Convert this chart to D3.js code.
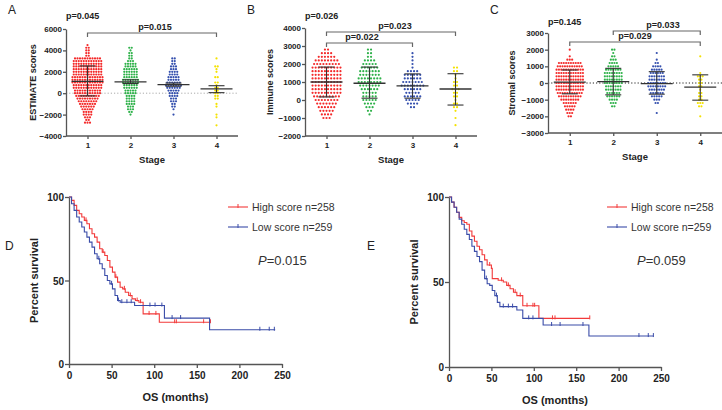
<!DOCTYPE html>
<html>
<head>
<meta charset="utf-8">
<script src="https://cdn.jsdelivr.net/npm/d3@7"></script>
<style>
  body { margin: 0; background: #fff; }
  text { font-family: "Liberation Sans", Arial, sans-serif; }
</style>
</head>
<body>
<script>
/* Size of the whole figure */
var width = 722,
    height = 410;

/* Categories and colours of the dot plots */
var stages = ["1", "2", "3", "4"];
var stageColors = ["#f42a2a", "#2fb24a", "#3550ae", "#f4e200"];

/* Dot plot rows: [score, number of dots in that row] */
var estimateRows1 = [[-2750,3],[-2500,2],[-2250,3],[-2000,4],[-1750,4],[-1500,5],[-1250,6],[-1000,7],[-750,8],[-500,9],[-250,10],[0,11],[250,11],[500,12],[750,12],[1000,13],[1250,13],[1500,13],[1750,12],[2000,12],[2250,12],[2500,12],[2750,12],[3000,12],[3250,11],[3500,2],[3750,2],[4000,2],[4250,2],[4500,1]];
var estimateRows2 = [[-2000,1],[-1750,2],[-1500,3],[-1250,3],[-1000,4],[-750,4],[-500,4],[-250,4],[0,5],[250,5],[500,6],[750,6],[1000,7],[1250,7],[1500,6],[1750,6],[2000,6],[2250,6],[2500,5],[2750,5],[3000,3],[3250,2],[3500,2],[3750,2],[4000,1],[4250,2]];
var estimateRows3 = [[-2000,1],[-1500,1],[-1250,2],[-1000,2],[-750,3],[-500,3],[-250,4],[0,4],[250,5],[500,6],[750,7],[1000,6],[1250,5],[1500,5],[1750,4],[2000,4],[2250,3],[2500,3],[2750,2],[3000,2],[3250,2]];
var estimateRows4 = [[-3000,1],[-2250,1],[-2000,1],[-1250,1],[-1000,1],[-500,2],[-250,2],[0,2],[250,2],[500,2],[750,1],[1000,2],[1500,2],[2000,1],[2250,1],[2500,2],[3250,1]];

var immuneRows1 = [[-1000,3],[-800,4],[-600,5],[-400,6],[-200,7],[0,8],[200,9],[400,10],[600,10],[800,10],[1000,10],[1200,10],[1400,10],[1600,10],[1800,10],[2000,9],[2200,8],[2400,6],[2600,4],[2800,2]];
var immuneRows2 = [[-800,1],[-600,2],[-400,3],[-200,4],[0,5],[200,5],[400,5],[600,6],[800,7],[1000,8],[1200,8],[1400,7],[1600,7],[1800,6],[2000,5],[2200,4],[2400,2],[2600,2],[2800,2]];
var immuneRows3 = [[-400,2],[-200,4],[0,5],[200,6],[400,5],[600,6],[800,8],[1000,7],[1200,6],[1400,6],[1600,4],[1800,1],[2000,1],[2200,1],[2400,1],[2600,1]];
var immuneRows4 = [[-1400,1],[-1000,1],[-600,1],[-400,2],[-200,2],[0,1],[200,2],[400,2],[600,3],[800,2],[1000,2],[1200,1],[1400,1],[1600,2],[1800,2]];

var stromalRows1 = [[-2000,2],[-1800,3],[-1600,4],[-1400,5],[-1200,6],[-1000,8],[-800,10],[-600,11],[-400,12],[-200,12],[0,12],[200,12],[400,12],[600,12],[800,12],[1000,11],[1200,10],[1400,3],[1600,1],[2000,1]];
var stromalRows2 = [[-1400,2],[-1200,3],[-1000,4],[-800,6],[-600,6],[-400,7],[-200,7],[0,8],[200,8],[400,8],[600,8],[800,7],[1000,5],[1200,4],[1400,3],[1600,2],[1800,1],[2000,2]];
var stromalRows3 = [[-1800,1],[-1200,2],[-1000,3],[-800,5],[-600,6],[-400,7],[-200,8],[0,8],[200,7],[400,7],[600,6],[800,5],[1000,4],[1200,2],[1400,1],[1800,1]];
var stromalRows4 = [[-2000,1],[-1400,2],[-1200,3],[-1000,2],[-800,2],[-600,2],[-400,1],[-200,2],[0,2],[200,2],[400,3],[600,1],[1600,1]];

/* Mean line and error bar ends per stage */
var estimateMean = [1100, 1050, 800, 400];
var estimateLow  = [-250, 900, 650, 50];
var estimateHigh = [2550, 1250, 950, 700];
var immuneMean = [1000, 930, 780, 610];
var immuneLow  = [170, 100, 100, -280];
var immuneHigh = [1830, 1830, 1450, 1460];
var stromalMean = [50, 85, -35, -250];
var stromalLow  = [-650, -710, -670, -1030];
var stromalHigh = [780, 880, 680, 490];

/* Axis ticks of the dot plots */
var estimateTicks = [-4000, -2000, 0, 2000, 4000, 6000];
var immuneTicks = [-2000, -1000, 0, 1000, 2000, 3000, 4000];
var stromalTicks = [-3000, -2000, -1000, 0, 1000, 2000, 3000];

/* Survival curves: [months, percent surviving] */
var highScoreD = [[0,100],[3,98],[6,95],[9,92],[12,90],[15,88],[18,86],[21,84],[24,81],[27,78],[30,76],[33,73],[36,69],[39,67],[42,65],[45,62],[48,58],[51,55],[54,52],[57,49],[60,46],[63,45],[66,43],[70,41],[74,39],[78,38],[82,37],[87,30],[106,25],[166,25]];
var lowScoreD = [[0,100],[3,96],[6,92],[9,88],[12,85],[15,82],[18,79],[21,76],[24,73],[27,70],[30,66],[33,63],[36,60],[39,57],[42,53],[45,50],[48,48],[51,45],[54,41],[57,38],[60,37],[77,35],[112,27.5],[165,20.5],[242,20.5]];
var highScoreE = [[0,100],[3,97],[6,94],[9,91],[12,88],[15,86],[18,85],[21,84],[24,80],[27,77],[30,74],[33,71],[36,69],[39,66],[42,63],[45,60],[50,58],[51,52],[58,51],[64,50],[68,48],[72,46],[76,44],[80,42],[87,36],[106,28.6],[166,28.6]];
var lowScoreE = [[0,100],[3,97],[6,94],[9,91],[12,87],[15,84],[18,81],[21,78],[24,75],[27,71],[30,68],[33,65],[36,62],[39,57],[42,52],[45,49],[48,48],[51,45],[54,42],[57,38],[60,35.5],[80,33.5],[87,28.6],[111,24.7],[165,18.2],[241,18.2]];

/* Censored times (tick marks on the curves) */
var highCensorD = [20, 40, 55, 65, 72, 80, 84, 94, 102, 124, 126, 158, 166];
var lowCensorD = [35, 50, 58, 62, 68, 73, 95, 101, 109, 121, 131, 224, 235, 241];
var highCensorE = [48, 62, 70, 78, 84, 92, 99, 101, 122, 125, 166];
var lowCensorE = [44, 56, 64, 70, 75, 94, 99, 121, 131, 158, 224, 235, 241];

var kmXTicks = [0, 50, 100, 150, 200, 250];
var kmYTicks = [0, 50, 100];
var legendLabels = ["High score n=258", "Low  score n=259"];
var kmColors = ["#f23a3a", "#3a4ca8"];

var axisColor = "#555";

/* Append svg */
var svg = d3.select("body").append("svg")
    .attr("width", width)
    .attr("height", height);


/* Draw one dot plot panel */
function dotPanel(p) {
    var x = d3.scalePoint().domain(stages).range([p.left, p.right]).padding(0.5);
    var y = d3.scaleLinear().domain(p.domain).range([p.bottom, p.top]);
    var g = svg.append("g");

    /* dotted zero line */
    if (p.zeroLine) {
        g.append("line")
            .attr("x1", p.left).attr("x2", p.right)
            .attr("y1", y(0)).attr("y2", y(0))
            .attr("stroke", p.zeroLine).attr("stroke-width", 1)
            .attr("stroke-dasharray", "1.2,2");
    }

    /* dots, one row per bin */
    p.rows.forEach(function(rows, s) {
        var dots = [];
        rows.forEach(function(r) {
            for (var i = 0; i < r[1]; i++) {
                dots.push({ dx: (i - (r[1] - 1) / 2) * p.spacing, v: r[0] });
            }
        });
        g.selectAll(null).data(dots).enter().append("circle")
            .attr("cx", function(d) { return x(stages[s]) + d.dx; })
            .attr("cy", function(d) { return y(d.v); })
            .attr("r", 1.1)
            .attr("fill", stageColors[s]);
    });

    /* mean and error bars */
    stages.forEach(function(st, s) {
        var cx = x(st);
        g.append("line").attr("x1", cx - 16).attr("x2", cx + 16)
            .attr("y1", y(p.mean[s])).attr("y2", y(p.mean[s]))
            .attr("stroke", "#333").attr("stroke-width", 1.3);
        g.append("line").attr("x1", cx).attr("x2", cx)
            .attr("y1", y(p.low[s])).attr("y2", y(p.high[s]))
            .attr("stroke", "#333").attr("stroke-width", 1.1);
        [p.low[s], p.high[s]].forEach(function(v) {
            g.append("line").attr("x1", cx - 8).attr("x2", cx + 8)
                .attr("y1", y(v)).attr("y2", y(v))
                .attr("stroke", "#333").attr("stroke-width", 1.1);
        });
    });

    /* axes */
    var yAxis = g.append("g")
        .attr("transform", "translate(" + p.left + ",0)")
        .call(d3.axisLeft(y).tickValues(p.ticks).tickFormat(d3.format("d")).tickSize(3).tickSizeOuter(0));
    var xAxis = g.append("g")
        .attr("transform", "translate(0," + p.bottom + ")")
        .call(d3.axisBottom(x).tickSize(3).tickSizeOuter(0));
    xAxis.select(".domain").attr("d", "M" + p.left + ",0H" + p.right);
    [yAxis, xAxis].forEach(function(a) {
        a.selectAll(".domain, line").attr("stroke", axisColor).attr("stroke-width", 1.3);
        a.selectAll("text").attr("fill", "#222").attr("font-size", 8)
            .attr("font-weight", "bold").attr("font-family", "Liberation Sans, Arial, sans-serif");
    });
    yAxis.selectAll("text").attr("x", -4);
    xAxis.selectAll("text").attr("y", 6);

    /* axis titles */
    g.append("text")
        .attr("transform", "translate(" + p.yTitleX + "," + ((p.top + p.bottom) / 2) + ") rotate(-90)")
        .attr("text-anchor", "middle").attr("font-size", 9).attr("font-weight", "bold")
        .attr("fill", "#222").text(p.yTitle);
    g.append("text")
        .attr("x", (p.left + p.right) / 2).attr("y", p.bottom + 27)
        .attr("text-anchor", "middle").attr("font-size", 9.5).attr("font-weight", "bold")
        .attr("fill", "#222").text("Stage");

    /* panel letter and overall p value */
    g.append("text").attr("x", p.left - 58).attr("y", 14)
        .attr("font-size", 12).attr("fill", "#222").text(p.letter);
    g.append("text").attr("x", p.left).attr("y", p.pTopY)
        .attr("font-size", 9).attr("font-weight", "bold").attr("fill", "#222").text(p.pTop);

    /* comparison brackets */
    p.brackets.forEach(function(b) {
        var x1 = x(b.from), x2 = x(b.to);
        g.append("path")
            .attr("d", "M" + x1 + "," + (b.y + 4) + "V" + b.y + "H" + x2 + "V" + (b.y + 4))
            .attr("fill", "none").attr("stroke", "#666").attr("stroke-width", 1.2);
        g.append("text").attr("x", b.textX).attr("y", b.y - 3)
            .attr("text-anchor", "middle").attr("font-size", 9).attr("font-weight", "bold")
            .attr("fill", "#222").text(b.label);
    });
}


/* Draw one survival panel */
function kmPanel(p) {
    var x = d3.scaleLinear().domain([0, 250]).range([p.left, p.right]);
    var y = d3.scaleLinear().domain([0, 100]).range([p.bottom, p.top]);
    var g = svg.append("g");

    var line = d3.line()
        .x(function(d) { return x(d[0]); })
        .y(function(d) { return y(d[1]); })
        .curve(d3.curveStepAfter);

    /* survival at a given time from the step data */
    function survivalAt(data, t) {
        var s = data[0][1];
        data.forEach(function(d) { if (d[0] <= t) s = d[1]; });
        return s;
    }

    [p.high, p.low].forEach(function(data, k) {
        g.append("path").datum(data)
            .attr("d", line).attr("fill", "none")
            .attr("stroke", kmColors[k]).attr("stroke-width", 1.1);
        g.selectAll(null).data(k === 0 ? p.highCensor : p.lowCensor).enter().append("line")
            .attr("x1", function(t) { return x(t); })
            .attr("x2", function(t) { return x(t); })
            .attr("y1", function(t) { return y(survivalAt(data, t)) - 3; })
            .attr("y2", function(t) { return y(survivalAt(data, t)) + 1; })
            .attr("stroke", kmColors[k]).attr("stroke-width", 1);
    });

    /* axes */
    var yAxis = g.append("g")
        .attr("transform", "translate(" + p.left + ",0)")
        .call(d3.axisLeft(y).tickValues(kmYTicks).tickSize(4).tickSizeOuter(0));
    var xAxis = g.append("g")
        .attr("transform", "translate(0," + p.bottom + ")")
        .call(d3.axisBottom(x).tickValues(kmXTicks).tickSize(4).tickSizeOuter(0));
    [yAxis, xAxis].forEach(function(a) {
        a.selectAll(".domain, line").attr("stroke", axisColor).attr("stroke-width", 1.3);
        a.selectAll("text").attr("fill", "#222").attr("font-size", 10)
            .attr("font-weight", "bold").attr("font-family", "Liberation Sans, Arial, sans-serif");
    });
    yAxis.selectAll("text").attr("x", -5).attr("dy", "0.35em");
    xAxis.selectAll("text").attr("y", 8);

    g.append("text")
        .attr("transform", "translate(" + (p.left - 31) + "," + ((p.top + p.bottom) / 2) + ") rotate(-90)")
        .attr("text-anchor", "middle").attr("font-size", 11).attr("font-weight", "bold")
        .attr("fill", "#222").text("Percent survival");
    g.append("text")
        .attr("x", (p.left + p.right) / 2).attr("y", p.bottom + 37)
        .attr("text-anchor", "middle").attr("font-size", 11).attr("font-weight", "bold")
        .attr("fill", "#222").text("OS (months)");

    g.append("text").attr("x", p.letterX).attr("y", 250)
        .attr("font-size", 12).attr("fill", "#222").text(p.letter);

    /* legend */
    legendLabels.forEach(function(label, k) {
        var ly = 207 + k * 20;
        g.append("line").attr("x1", p.legendX).attr("x2", p.legendX + 20)
            .attr("y1", ly).attr("y2", ly).attr("stroke", kmColors[k]).attr("stroke-width", 1.1);
        g.append("line").attr("x1", p.legendX + 10).attr("x2", p.legendX + 10)
            .attr("y1", ly - 3).attr("y2", ly + 1).attr("stroke", kmColors[k]).attr("stroke-width", 1);
        g.append("text").attr("x", p.legendX + 24).attr("y", ly + 4)
            .attr("font-size", 10.5).attr("fill", "#333").text(label);
    });

    var pt = g.append("text").attr("x", p.legendX + 30).attr("y", 265)
        .attr("font-size", 13).attr("fill", "#333");
    pt.append("tspan").attr("font-style", "italic").text("P");
    pt.append("tspan").text("=" + p.pValue);
}


dotPanel({
    letter: "A", left: 66, right: 238, top: 29, bottom: 136,
    domain: [-4000, 6000], ticks: estimateTicks, spacing: 2.5,
    rows: [estimateRows1, estimateRows2, estimateRows3, estimateRows4],
    mean: estimateMean, low: estimateLow, high: estimateHigh,
    zeroLine: "#aaa", yTitle: "ESTIMATE  scores", yTitleX: 36,
    pTop: "p=0.045", pTopY: 19,
    brackets: [{ from: "1", to: "4", y: 33, label: "p=0.015", textX: 155 }]
});

dotPanel({
    letter: "B", left: 305, right: 477, top: 28, bottom: 136,
    domain: [-2000, 4000], ticks: immuneTicks, spacing: 3.1,
    rows: [immuneRows1, immuneRows2, immuneRows3, immuneRows4],
    mean: immuneMean, low: immuneLow, high: immuneHigh,
    zeroLine: null, yTitle: "Immune scores", yTitleX: 273,
    pTop: "p=0.026", pTopY: 19,
    brackets: [{ from: "1", to: "4", y: 32, label: "p=0.023", textX: 395 },
               { from: "1", to: "3", y: 43, label: "p=0.022", textX: 362 }]
});

dotPanel({
    letter: "C", left: 548, right: 722, top: 33, bottom: 133,
    domain: [-3000, 3000], ticks: stromalTicks, spacing: 2.4,
    rows: [stromalRows1, stromalRows2, stromalRows3, stromalRows4],
    mean: stromalMean, low: stromalLow, high: stromalHigh,
    zeroLine: "#222", yTitle: "Stromal scores", yTitleX: 515,
    pTop: "p=0.145", pTopY: 25,
    brackets: [{ from: "2", to: "4", y: 31, label: "p=0.033", textX: 663 },
               { from: "1", to: "4", y: 42, label: "p=0.029", textX: 635 }]
});

kmPanel({
    letter: "D", letterX: 5, left: 69, right: 282, top: 197, bottom: 364,
    high: highScoreD, low: lowScoreD, highCensor: highCensorD, lowCensor: lowCensorD,
    legendX: 228, pValue: "0.015"
});

kmPanel({
    letter: "E", letterX: 367, left: 449, right: 661, top: 197, bottom: 367,
    high: highScoreE, low: lowScoreE, highCensor: highCensorE, lowCensor: lowCensorE,
    legendX: 607, pValue: "0.059"
});
</script>
</body>
</html>
